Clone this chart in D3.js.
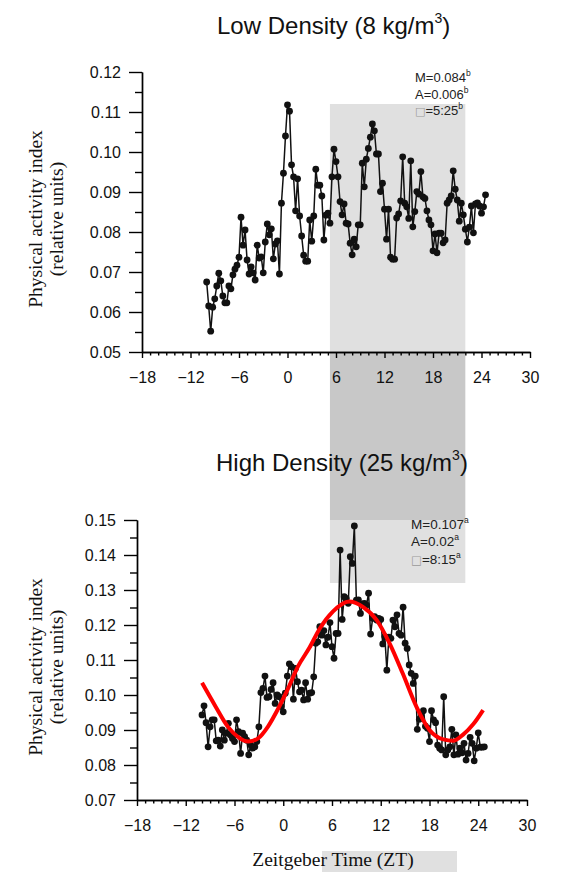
<!DOCTYPE html>
<html>
<head>
<meta charset="utf-8">
<script src="https://cdn.jsdelivr.net/npm/d3@7"></script>
<style>
  body { margin: 0; background: #fff; }
  svg { display: block; }
</style>
</head>
<body>
<div id="chart"></div>
<script>
/* global d3 */

// sampling of the activity records (ZT hours)
const startZT = -10;
const stepZT = 0.25;

// Low density (8 kg/m3) activity index, one value per 15 min
const lowDensity = [
  0.0675, 0.0615, 0.0552, 0.0612, 0.0633, 0.0665, 0.0697, 0.0678, 0.0640, 0.0623,
  0.0623, 0.0665, 0.0658, 0.0693, 0.0707, 0.0717, 0.0737, 0.0837, 0.0767, 0.0805,
  0.0730, 0.0695, 0.0713, 0.0698, 0.0680, 0.0767, 0.0735, 0.0738, 0.0698, 0.0775,
  0.0820, 0.0793, 0.0808, 0.0733, 0.0770, 0.0778, 0.0695, 0.0872, 0.0947, 0.1040,
  0.1118, 0.1102, 0.0968, 0.0938, 0.0853, 0.0933, 0.0840, 0.0790, 0.0742, 0.0727,
  0.0727, 0.0830, 0.0777, 0.0840, 0.0957, 0.0917, 0.0917, 0.0890, 0.0780, 0.0842,
  0.0847, 0.0822, 0.0938, 0.1007, 0.0976, 0.0938, 0.0876, 0.0843, 0.0870, 0.0822,
  0.0820, 0.0772, 0.0743, 0.0782, 0.0763, 0.0818, 0.0818, 0.0972, 0.0913, 0.0982,
  0.1009, 0.1037, 0.1070, 0.1053, 0.0995, 0.0995, 0.0901, 0.0922, 0.0857, 0.0782,
  0.0857, 0.0737, 0.0732, 0.0732, 0.0835, 0.0845, 0.0878, 0.0988, 0.0872, 0.0863,
  0.0834, 0.0978, 0.0813, 0.0851, 0.0901, 0.0895, 0.0951, 0.0888, 0.0884, 0.0853,
  0.0830, 0.0818, 0.0753, 0.0795, 0.0748, 0.0797, 0.0797, 0.0773, 0.0780, 0.0872,
  0.0880, 0.0890, 0.0953, 0.0907, 0.0880, 0.0827, 0.0872, 0.0843, 0.0807, 0.0775,
  0.0812, 0.0865, 0.0798, 0.0870, 0.0873, 0.0865, 0.0847, 0.0863, 0.0893
];

// High density (25 kg/m3) activity index, one value per 15 min
const highDensity = [
  0.0943, 0.0969, 0.0921, 0.0852, 0.0909, 0.0929, 0.0929, 0.0869, 0.0871, 0.0854,
  0.0900, 0.0871, 0.0891, 0.0919, 0.0886, 0.0876, 0.0867, 0.0929, 0.0895, 0.0833,
  0.0891, 0.0881, 0.0871, 0.0829, 0.0857, 0.0848, 0.0852, 0.0867, 0.0909, 0.1007,
  0.1019, 0.1054, 0.0993, 0.0995, 0.1016, 0.1035, 0.0976, 0.1000, 0.0995, 0.0967,
  0.0952, 0.1005, 0.1054, 0.1089, 0.1081, 0.0988, 0.1076, 0.1038, 0.1009, 0.1014,
  0.0986, 0.1035, 0.0988, 0.1005, 0.1007, 0.1052, 0.1148, 0.1152,
  0.1195, 0.1171, 0.1184, 0.1143, 0.1165, 0.1207, 0.1138, 0.1105, 0.1176, 0.1176,
  0.1414, 0.1216, 0.1281, 0.1276, 0.1262, 0.1395, 0.1376, 0.1483, 0.1271, 0.1272,
  0.1233, 0.1260, 0.1262, 0.1257, 0.1291, 0.1174, 0.1219, 0.1224, 0.1214, 0.1219,
  0.1216, 0.1146, 0.1167, 0.1071, 0.1165, 0.1162, 0.1214, 0.1195, 0.1229, 0.1176,
  0.1171, 0.1251, 0.1148, 0.1133, 0.1086, 0.1062, 0.1033, 0.1054, 0.0902, 0.0931,
  0.0940, 0.0955, 0.0911, 0.0905, 0.0867, 0.0955, 0.0929, 0.0921, 0.0857, 0.0848,
  0.0843, 0.0995, 0.0829, 0.0843, 0.0852, 0.0902, 0.0829, 0.0886, 0.0831, 0.0848,
  0.0835, 0.0862, 0.0814, 0.0833, 0.0879, 0.0862, 0.0812, 0.0848, 0.0892, 0.0851,
  0.0851, 0.0852
];

// cosinor fit (red curve)
const fitZT = [-10, -8.3, -6.8, -5.5, -4.3, -3.1, -1.9, -0.6, 0.6, 1.8, 3.2, 4.5,
  6.1, 8.1, 9.8, 11.5, 13.1, 14.7, 16.4, 18.0, 19.7, 20.9, 22.1, 23.4, 24.6];
const fitValues = [0.1035, 0.0966, 0.0909, 0.0879, 0.0867, 0.0876, 0.0909, 0.0962,
  0.1019, 0.1081, 0.1134, 0.1190, 0.1238, 0.1267, 0.1252, 0.1214, 0.1147, 0.1062,
  0.0966, 0.0900, 0.0873, 0.0869, 0.0886, 0.0917, 0.0957];

const xTicks = [-18, -12, -6, 0, 6, 12, 18, 24, 30];
const lowYTicks = [0.05, 0.06, 0.07, 0.08, 0.09, 0.10, 0.11, 0.12];
const highYTicks = [0.07, 0.08, 0.09, 0.10, 0.11, 0.12, 0.13, 0.14, 0.15];

// light phase shading (ZT) and cosinor parameters
const lightStart = 5.25;
const lightEnd = 22;
const lowStats = [["M=0.084", "b"], ["A=0.006", "b"], ["=5:25", "b"]];
const highStats = [["M=0.107", "a"], ["A=0.02", "a"], ["=8:15", "a"]];

const W = 562, H = 872;
const sans = "'Liberation Sans', Arial, sans-serif";
const serif = "'Liberation Serif', 'Times New Roman', serif";

const svg = d3.select("#chart").append("svg")
  .attr("width", W)
  .attr("height", H);

const toPoints = (vals) => vals.map((v, i) => ({ zt: startZT + i * stepZT, v }));

const panels = [
  {
    title: "Low Density (8 kg/m", titleX: 217, titleY: 34,
    left: 142, right: 530, top: 72, bottom: 352,
    yDomain: [0.05, 0.12], yTicks: lowYTicks,
    data: toPoints(lowDensity),
    stats: lowStats, statX: 415, statY: 82, statGap: 16.5, statSize: 13,
    shadeTop: 0.112
  },
  {
    title: "High Density (25 kg/m", titleX: 216, titleY: 471,
    left: 137, right: 527, top: 520, bottom: 800,
    yDomain: [0.07, 0.15], yTicks: highYTicks,
    data: toPoints(highDensity),
    stats: highStats, statX: 411, statY: 529, statGap: 17.3, statSize: 13.5,
    shadeTop: 0.15, shadeBottom: 0.132,
    fit: fitZT.map((zt, i) => ({ zt, v: fitValues[i] }))
  }
];

panels.forEach(p => {
  p.x = d3.scaleLinear().domain([-18, 30]).range([p.left, p.right]);
  p.y = d3.scaleLinear().domain(p.yDomain).range([p.bottom, p.top]);
});

// light-phase shading, same pixel column through both panels
const lowP = panels[0], highP = panels[1];
const sx0 = lowP.x(lightStart), sx1 = lowP.x(lightEnd);
const shade = svg.append("g").attr("class", "shade");
shade.append("rect")
  .attr("x", sx0).attr("width", sx1 - sx0)
  .attr("y", lowP.y(lowP.shadeTop)).attr("height", lowP.y(lowP.yDomain[0]) - lowP.y(lowP.shadeTop))
  .attr("fill", "#e0e0e0");
shade.append("rect")
  .attr("x", sx0).attr("width", sx1 - sx0)
  .attr("y", lowP.y(lowP.yDomain[0])).attr("height", highP.y(highP.shadeTop) - lowP.y(lowP.yDomain[0]))
  .attr("fill", "#c8c8c8");
shade.append("rect")
  .attr("x", sx0).attr("width", sx1 - sx0)
  .attr("y", highP.y(highP.shadeTop)).attr("height", highP.y(highP.shadeBottom) - highP.y(highP.shadeTop))
  .attr("fill", "#e0e0e0");

function styleAxis(g) {
  g.attr("font-family", sans).attr("font-size", 16);
  g.selectAll("path, line").attr("stroke", "#000").attr("stroke-width", 1.4);
  g.selectAll("text").attr("fill", "#111");
}

panels.forEach(p => {
  const g = svg.append("g");

  // title with superscript
  const t = g.append("text")
    .attr("x", p.titleX).attr("y", p.titleY)
    .attr("font-family", sans).attr("font-size", 24).attr("fill", "#111");
  t.append("tspan").text(p.title);
  t.append("tspan").attr("font-size", 14).attr("dy", -11).text("3");
  t.append("tspan").attr("dy", 11).text(")");

  // axes
  const minorX = d3.range(-18, 31, 1).filter(d => xTicks.indexOf(d) < 0);
  g.append("g")
    .attr("transform", `translate(0,${p.bottom})`)
    .call(d3.axisBottom(p.x).tickValues(minorX).tickSize(3.5).tickSizeOuter(0).tickFormat(""))
    .call(styleAxis);
  g.append("g")
    .attr("transform", `translate(0,${p.bottom})`)
    .call(d3.axisBottom(p.x).tickValues(xTicks).tickSize(6).tickSizeOuter(0).tickPadding(14))
    .call(styleAxis);

  const minorY = p.yTicks.slice(0, -1).map(d => +(d + 0.005).toFixed(3));
  g.append("g")
    .attr("transform", `translate(${p.left},0)`)
    .call(d3.axisLeft(p.y).tickValues(minorY).tickSize(7).tickSizeOuter(0).tickFormat(""))
    .call(styleAxis);
  g.append("g")
    .attr("transform", `translate(${p.left},0)`)
    .call(d3.axisLeft(p.y).tickValues(p.yTicks).tickSize(13).tickSizeOuter(0)
      .tickPadding(8).tickFormat(d3.format(".2f")))
    .call(styleAxis);

  // y axis title
  const cy = (p.top + p.bottom) / 2 + 7;
  const yt = g.append("text")
    .attr("transform", `translate(0,${cy}) rotate(-90)`)
    .attr("text-anchor", "middle")
    .attr("font-family", serif).attr("font-size", 19.5).attr("fill", "#111");
  yt.append("tspan").attr("x", 0).attr("y", 42).text("Physical activity index");
  yt.append("tspan").attr("x", 0).attr("y", 63).text("(relative units)");

  // data line and points
  const line = d3.line().x(d => p.x(d.zt)).y(d => p.y(d.v));
  g.append("path")
    .datum(p.data)
    .attr("d", line)
    .attr("fill", "none")
    .attr("stroke", "#111")
    .attr("stroke-width", 1.5);
  g.selectAll("circle.pt")
    .data(p.data)
    .enter().append("circle")
    .attr("class", "pt")
    .attr("cx", d => p.x(d.zt))
    .attr("cy", d => p.y(d.v))
    .attr("r", 3.4)
    .attr("fill", "#111");

  if (p.fit) {
    g.append("path")
      .datum(p.fit)
      .attr("d", line.curve(d3.curveMonotoneX))
      .attr("fill", "none")
      .attr("stroke", "#ff0000")
      .attr("stroke-width", 4);
  }

  // cosinor stats
  p.stats.forEach((s, i) => {
    const st = g.append("text")
      .attr("x", p.statX).attr("y", p.statY + i * p.statGap)
      .attr("font-family", sans).attr("font-size", p.statSize).attr("fill", "#222");
    if (i === 2) {
      st.append("tspan").attr("font-family", "'DejaVu Sans'").attr("font-size", p.statSize - 2)
        .attr("fill", "#9a9a9a").text("\u25A1");
    }
    st.append("tspan").text(s[0]);
    st.append("tspan").attr("font-size", 8.5).attr("dy", -6).text(s[1]);
  });
});

// x axis title with its grey backdrop
svg.append("rect")
  .attr("x", 322).attr("y", 851).attr("width", 135).attr("height", 21)
  .attr("fill", "#e0e0e0");
svg.append("text")
  .attr("x", 333).attr("y", 866)
  .attr("text-anchor", "middle")
  .attr("font-family", serif).attr("font-size", 19.5).attr("fill", "#111")
  .text("Zeitgeber Time (ZT)");
</script>
</body>
</html>
